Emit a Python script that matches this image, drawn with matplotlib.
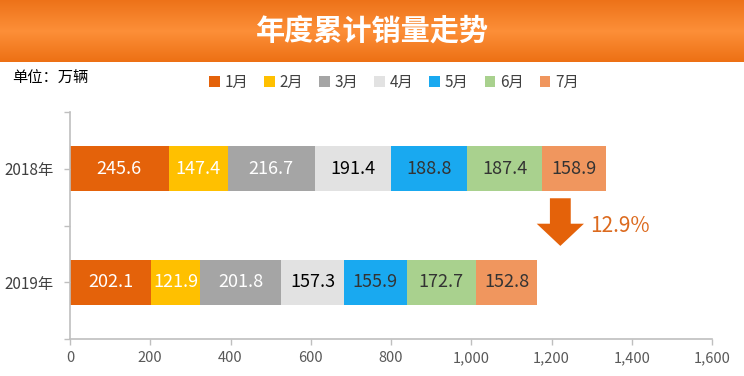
import matplotlib.pyplot as plt
import numpy as np
from matplotlib.ticker import FuncFormatter

plt.rcParams['font.family'] = ['Noto Sans CJK SC', 'DejaVu Sans']

# data
years = ['2018年', '2019年']
months = ['1月', '2月', '3月', '4月', '5月', '6月', '7月']
sales_2018 = [245.6, 147.4, 216.7, 191.4, 188.8, 187.4, 158.9]
sales_2019 = [202.1, 121.9, 201.8, 157.3, 155.9, 172.7, 152.8]
decline = '12.9%'

colors = ['#E4620A', '#FFC000', '#A5A5A5', '#E2E2E2', '#19A9F0', '#A9D18E', '#F0965E']
text_colors = ['white', 'white', 'white', 'black', '#333333', '#333333', '#333333']
orange = '#E4620A'

fig = plt.figure(figsize=(7.44, 3.76), dpi=100)

# title banner with a vertical gradient
banner = fig.add_axes([0, 1 - 62 / 376, 1, 62 / 376])
grad = np.linspace(0, 1, 64).reshape(-1, 1)
c_top = np.array([0.93, 0.45, 0.10])
c_mid = np.array([0.99, 0.56, 0.22])
c_bot = np.array([0.93, 0.44, 0.08])
rgb = np.where(grad < 0.5,
               c_top + (c_mid - c_top) * (grad / 0.5),
               c_mid + (c_bot - c_mid) * ((grad - 0.5) / 0.5))
banner.imshow(rgb.reshape(64, 1, 3), aspect='auto', extent=[0, 1, 0, 1])
banner.set_axis_off()
banner.text(0.5, 0.5, '年度累计销量走势', color='white', fontsize=21,
            fontweight='heavy', ha='center', va='center')

fig.text(12 / 744, 1 - 78 / 376, '单位：万辆', fontsize=11, ha='left',
         va='center', color='black', fontweight='medium')

ax = fig.add_axes([70 / 744, 1 - 339 / 376, 642 / 744, 227 / 376])

y = np.arange(len(years))
left = np.zeros(len(years))
for i, m in enumerate(months):
    vals = np.array([sales_2018[i], sales_2019[i]])
    bars = ax.barh(y, vals, left=left, height=0.4, color=colors[i], label=m)
    for j, b in enumerate(bars):
        ax.text(left[j] + vals[j] / 2, y[j], f'{vals[j]:.1f}', ha='center',
                va='center', color=text_colors[i], fontsize=13)
    left = left + vals

ax.set_xlim(0, 1600)
ax.set_ylim(1.5, -0.5)
ax.set_xticks(np.arange(0, 1601, 200))
ax.xaxis.set_major_formatter(FuncFormatter(lambda v, p: f'{int(v):,}'))
ax.set_yticks([-0.5, 0, 0.5, 1, 1.5])
ax.set_yticklabels(['', years[0], '', years[1], ''])
for s in ['top', 'right']:
    ax.spines[s].set_visible(False)
for s in ['left', 'bottom']:
    ax.spines[s].set_color('#BFBFBF')
    ax.spines[s].set_linewidth(1.2)
ax.tick_params(axis='both', colors='#BFBFBF', length=4, width=1)
ax.tick_params(axis='x', labelcolor='#595959', labelsize=10.5, pad=5)
ax.tick_params(axis='y', labelcolor='#404040', labelsize=11, pad=8)

# decline arrow
ax.annotate('', xy=(1222, 0.68), xytext=(1222, 0.26),
            arrowprops=dict(arrowstyle='simple,head_width=1.7,head_length=0.8,tail_width=0.75',
                            mutation_scale=20, color=orange, lw=0,
                            shrinkA=0, shrinkB=0))
ax.text(1297, 0.5, decline, color='#DC6A1E', fontsize=15, ha='left', va='center')

handles, labels = ax.get_legend_handles_labels()
fig.legend(handles, labels, loc='center', bbox_to_anchor=(394 / 744, 1 - 82 / 376),
           ncol=7, frameon=False, fontsize=11, handlelength=0.7, handleheight=0.7,
           handletextpad=0.3, columnspacing=1.05, labelcolor='#404040')

fig.savefig('out.png', dpi=100)
